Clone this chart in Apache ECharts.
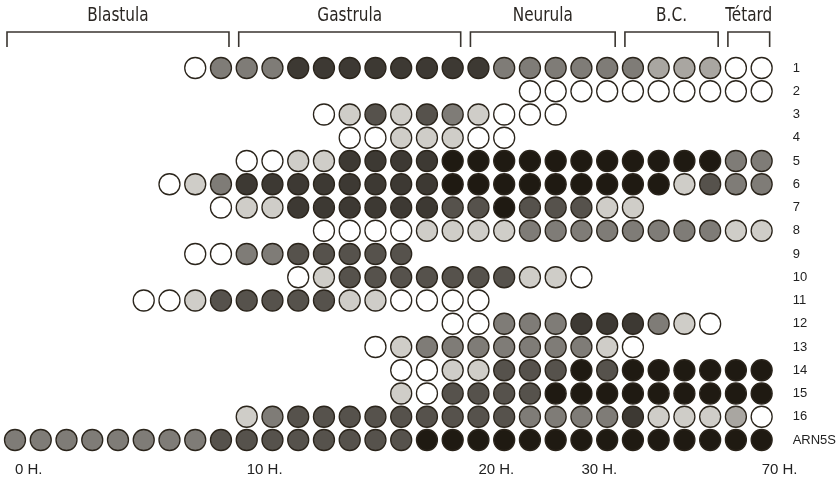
<!DOCTYPE html>
<html>
<head>
<meta charset="utf-8">
<script src="https://cdn.jsdelivr.net/npm/echarts@6/dist/echarts.min.js"></script>
<style>
  html, body { margin: 0; padding: 0; background: #ffffff; }
  #chart { width: 839px; height: 483px; }
</style>
</head>
<body>
<div id="chart"></div>
<script>
// Expression level per sampling stage, one array per gene (30 stages, left to right).
// Shade codes: 0 none, 1 weak, 2 weak-moderate, 3 moderate, 4 strong, 5 very strong, 6 maximal.
const _ = null;

const rowLabels = ['1', '2', '3', '4', '5', '6', '7', '8', '9', '10', '11', '12', '13', '14', '15', '16', 'ARN5S'];

const row1  = [_,_,_,_,_,_,_,0,3,3,3,5,5,5,5,5,5,5,5,3,3,3,3,3,3,2,2,2,0,0];
const row2  = [_,_,_,_,_,_,_,_,_,_,_,_,_,_,_,_,_,_,_,_,0,0,0,0,0,0,0,0,0,0];
const row3  = [_,_,_,_,_,_,_,_,_,_,_,_,0,1,4,1,4,3,1,0,0,0,_,_,_,_,_,_,_,_];
const row4  = [_,_,_,_,_,_,_,_,_,_,_,_,_,0,0,1,1,1,0,0,_,_,_,_,_,_,_,_,_,_];
const row5  = [_,_,_,_,_,_,_,_,_,0,0,1,1,5,5,5,5,6,6,6,6,6,6,6,6,6,6,6,3,3];
const row6  = [_,_,_,_,_,_,0,1,3,5,5,5,5,5,5,5,5,6,6,6,6,6,6,6,6,6,1,4,3,3];
const row7  = [_,_,_,_,_,_,_,_,0,1,1,5,5,5,5,5,5,4,4,6,4,4,4,1,1,_,_,_,_,_];
const row8  = [_,_,_,_,_,_,_,_,_,_,_,_,0,0,0,0,1,1,1,1,3,3,3,3,3,3,3,3,1,1];
const row9  = [_,_,_,_,_,_,_,0,0,3,3,4,4,4,4,4,_,_,_,_,_,_,_,_,_,_,_,_,_,_];
const row10 = [_,_,_,_,_,_,_,_,_,_,_,0,1,4,4,4,4,4,4,4,1,1,0,_,_,_,_,_,_,_];
const row11 = [_,_,_,_,_,0,0,1,4,4,4,4,4,1,1,0,0,0,0,_,_,_,_,_,_,_,_,_,_,_];
const row12 = [_,_,_,_,_,_,_,_,_,_,_,_,_,_,_,_,_,0,0,3,3,3,5,5,5,3,1,0,_,_];
const row13 = [_,_,_,_,_,_,_,_,_,_,_,_,_,_,0,1,3,3,3,3,3,3,3,1,0,_,_,_,_,_];
const row14 = [_,_,_,_,_,_,_,_,_,_,_,_,_,_,_,0,0,1,1,4,4,4,6,4,6,6,6,6,6,6];
const row15 = [_,_,_,_,_,_,_,_,_,_,_,_,_,_,_,1,0,4,4,4,4,6,6,6,6,6,6,6,6,6];
const row16 = [_,_,_,_,_,_,_,_,_,1,3,4,4,4,4,4,4,4,4,4,3,3,3,3,5,1,1,1,2,0];
const rowArn5s = [3,3,3,3,3,3,3,3,4,4,4,4,4,4,4,4,6,6,6,6,6,6,6,6,6,6,6,6,6,6];

const rows = [row1, row2, row3, row4, row5, row6, row7, row8, row9, row10,
              row11, row12, row13, row14, row15, row16, rowArn5s];

// Time axis: 30 sampling stages, labelled at a few of them.
const stageCount = 30;
const timeTickCols = [0, 9, 18, 22, 29];
const timeTicks = ['0 H.', '10 H.', '20 H.', '30 H.', '70 H.'];

// Developmental periods, given as first and last stage column.
const periodNames = ['Blastula', 'Gastrula', 'Neurula', 'B.C.', 'Tétard'];
const periodFrom  = [0, 9, 18, 24, 28];
const periodTo    = [8, 17, 23, 27, 29];

const shadeColors = ['#ffffff', '#cfcdc8', '#a9a6a1', '#7f7c77', '#56524c', '#3d3933', '#1f1a12'];
const inkColor = '#2a241b';

const columns = Array.from({ length: stageCount }, (v, i) => String(i));

const dots = [];
rows.forEach((row, r) => {
  row.forEach((level, c) => {
    if (level !== null) dots.push([c, r, level]);
  });
});

const periods = periodNames.map((name, i) => [periodFrom[i], periodTo[i], i]);

const chart = echarts.init(document.getElementById('chart'), null, { renderer: 'canvas' });

chart.setOption({
  animation: false,
  backgroundColor: '#ffffff',
  grid: { left: 15, right: 75, top: 68, bottom: 43, containLabel: false },
  xAxis: {
    type: 'category',
    data: columns,
    boundaryGap: false,
    axisLine: { show: false },
    axisTick: { show: false },
    splitLine: { show: false },
    axisLabel: {
      interval: 0,
      align: 'left',
      margin: 22,
      fontSize: 15,
      fontFamily: 'Liberation Sans, Arial, sans-serif',
      color: '#222',
      formatter: (value, index) => {
        const k = timeTickCols.indexOf(index);
        return k >= 0 ? timeTicks[k] : '';
      }
    }
  },
  yAxis: {
    type: 'category',
    data: rowLabels,
    inverse: true,
    position: 'right',
    boundaryGap: false,
    axisLine: { show: false },
    axisTick: { show: false },
    splitLine: { show: false },
    axisLabel: {
      interval: 0,
      align: 'left',
      margin: 31,
      fontSize: 13,
      fontFamily: 'Liberation Sans, Arial, sans-serif',
      color: '#222'
    }
  },
  series: [
    {
      type: 'scatter',
      data: dots,
      symbol: 'circle',
      symbolSize: 21,
      itemStyle: {
        color: p => shadeColors[p.value[2]],
        borderColor: inkColor,
        borderWidth: 1.3,
        opacity: 1
      },
      emphasis: { disabled: true }
    },
    {
      type: 'custom',
      data: periods,
      clip: false,
      encode: { x: [0, 1] },
      renderItem: (params, api) => {
        const from = api.value(0);
        const to = api.value(1);
        const name = periodNames[api.value(2)];
        const half = 8;
        const x0 = api.coord([from, 0])[0] - half;
        const x1 = api.coord([to, 0])[0] + half;
        const yLine = api.coord([0, 0])[1] - 36;
        const yEnd = yLine + 15;
        return {
          type: 'group',
          children: [
            {
              type: 'polyline',
              shape: { points: [[x0, yEnd], [x0, yLine], [x1, yLine], [x1, yEnd]] },
              style: { stroke: '#3a3530', lineWidth: 1.6, fill: null }
            },
            {
              type: 'text',
              x: (x0 + x1) / 2,
              y: yLine - 16,
              scaleX: 0.85,
              style: {
                text: name,
                x: 0,
                y: 0,
                align: 'center',
                verticalAlign: 'middle',
                fontSize: 20,
                fontFamily: 'DejaVu Sans Condensed, Liberation Sans, sans-serif',
                fill: '#2a2622'
              }
            }
          ]
        };
      }
    }
  ]
});
</script>
</body>
</html>
